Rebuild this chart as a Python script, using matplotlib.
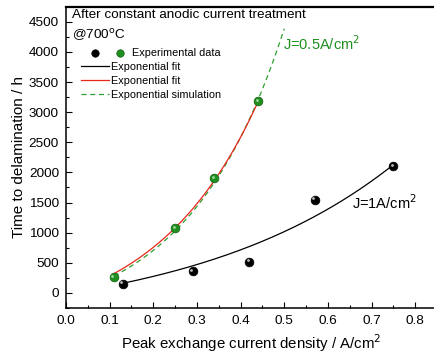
import numpy as np
import matplotlib
matplotlib.use("Agg")
import matplotlib.pyplot as plt
from matplotlib.lines import Line2D
from matplotlib import transforms

# Experimental data
x_j1 = [0.13, 0.29, 0.42, 0.57, 0.75]
y_j1 = [150, 360, 520, 1550, 2100]
x_j05 = [0.11, 0.25, 0.34, 0.44]
y_j05 = [260, 1070, 1900, 3180]

# Exponential fit parameters y = y0 + A*exp(b*x)
fit_j1 = dict(y0=-545, A=533, b=2.15, xmin=0.13, xmax=0.75)
fit_j05 = dict(y0=-623, A=593, b=4.22, xmin=0.11, xmax=0.44)
sim_j05 = dict(y0=-566, A=514, b=4.53, xmin=0.11, xmax=0.50)

xticks = [0.0, 0.1, 0.2, 0.3, 0.4, 0.5, 0.6, 0.7, 0.8]
yticks = [0, 500, 1000, 1500, 2000, 2500, 3000, 3500, 4000, 4500]

BLACK_C = 'black'
GREEN_C = '#1f8f1f'
plt.rcParams['font.family'] = ['Liberation Sans', 'DejaVu Sans']

fig = plt.figure(figsize=(4.34, 3.53), dpi=100)
ax = fig.add_axes([0.152, 0.1275, 0.855, 0.8535])

def curve(p):
    xs = np.linspace(p['xmin'], p['xmax'], 200)
    return xs, p['y0'] + p['A'] * np.exp(p['b'] * xs)

xs, ys = curve(fit_j1)
l_black, = ax.plot(xs, ys, color='black', lw=0.9)
xs, ys = curve(sim_j05)
l_sim, = ax.plot(xs, ys, color='#2ca02c', lw=0.9, ls=(0, (4, 3)))
xs, ys = curve(fit_j05)
l_red, = ax.plot(xs, ys, color='#e8261c', lw=0.9)

MS = 6.3
m_black, = ax.plot(x_j1, y_j1, 'o', color=BLACK_C, ms=MS, mec='black', mew=0.5, ls='none', zorder=5)
m_green, = ax.plot(x_j05, y_j05, 'o', color=GREEN_C, ms=MS, mec='#0d5e0d', mew=0.5, ls='none', zorder=5)
# highlights on spheres
hl = transforms.offset_copy(ax.transData, fig=fig, x=-1.1, y=1.1, units='points')
ax.plot(x_j1, y_j1, 'o', color='#bbbbbb', ms=2.0, mew=0, ls='none', transform=hl, zorder=6)
ax.plot(x_j05, y_j05, 'o', color='#9fd89f', ms=2.0, mew=0, ls='none', transform=hl, zorder=6)

ax.set_xlim(0, 0.85)
ax.set_ylim(-250, 4750)
ax.set_xticks(xticks)
ax.set_xticklabels([f"{v:.1f}" for v in xticks])
ax.set_yticks(yticks)
ax.set_xticks(np.arange(0.05, 0.85, 0.1), minor=True)
ax.set_yticks(np.arange(-250, 4750, 500), minor=True)
ax.tick_params(which='both', direction='in', labelsize=9.7, top=False, right=False)
ax.tick_params(which='major', length=4, width=0.8, pad=5)
ax.tick_params(which='minor', length=2.5, width=0.8)
for s in ax.spines.values():
    s.set_linewidth(1.1)
ax.spines['top'].set_linewidth(1.6)
ax.spines['right'].set_visible(False)

ax.set_xlabel('Peak exchange current density / A/cm$^2$', fontsize=10.8, labelpad=4)
ax.set_ylabel('Time to delamination / h', fontsize=11, labelpad=2)

ax.text(0.015, 0.972, 'After constant anodic current treatment', transform=ax.transAxes,
        fontsize=9.7, va='center', ha='left')
ax.text(0.015, 0.905, '@700$^{\\rm o}$C', transform=ax.transAxes,
        fontsize=9.7, va='center', ha='left')
ax.text(0.498, 4130, 'J=0.5A/cm$^2$', color=GREEN_C, fontsize=10.5, ha='left', va='center')
ax.text(0.656, 1500, 'J=1A/cm$^2$', color='black', fontsize=10.5, ha='left', va='center')


class PairHandler:
    """Two sphere markers: one in the handle box, one just after it."""
    def legend_artist(self, legend, orig_handle, fontsize, handlebox):
        w, h = handlebox.width, handlebox.height
        arts = []
        for i, mk in enumerate(orig_handle):
            ln = Line2D([w * (0.5 + 0.9 * i)], [h / 2], marker='o', ls='none',
                        color=mk.get_color(), mec=mk.get_mec(), mew=0.5,
                        ms=mk.get_markersize() * 0.85, transform=handlebox.get_transform())
            handlebox.add_artist(ln)
            arts.append(ln)
        return arts[0]


leg = ax.legend([(m_black, m_green), l_black, l_red, l_sim],
                ['       Experimental data', 'Exponential fit', 'Exponential fit',
                 'Exponential simulation'],
                handler_map={tuple: PairHandler()},
                loc='upper left', bbox_to_anchor=(0.02, 0.887), frameon=False,
                fontsize=7.8, handlelength=2.6, handletextpad=0.2, labelspacing=0.36,
                borderpad=0.2)

fig.savefig('out.png', dpi=100)
